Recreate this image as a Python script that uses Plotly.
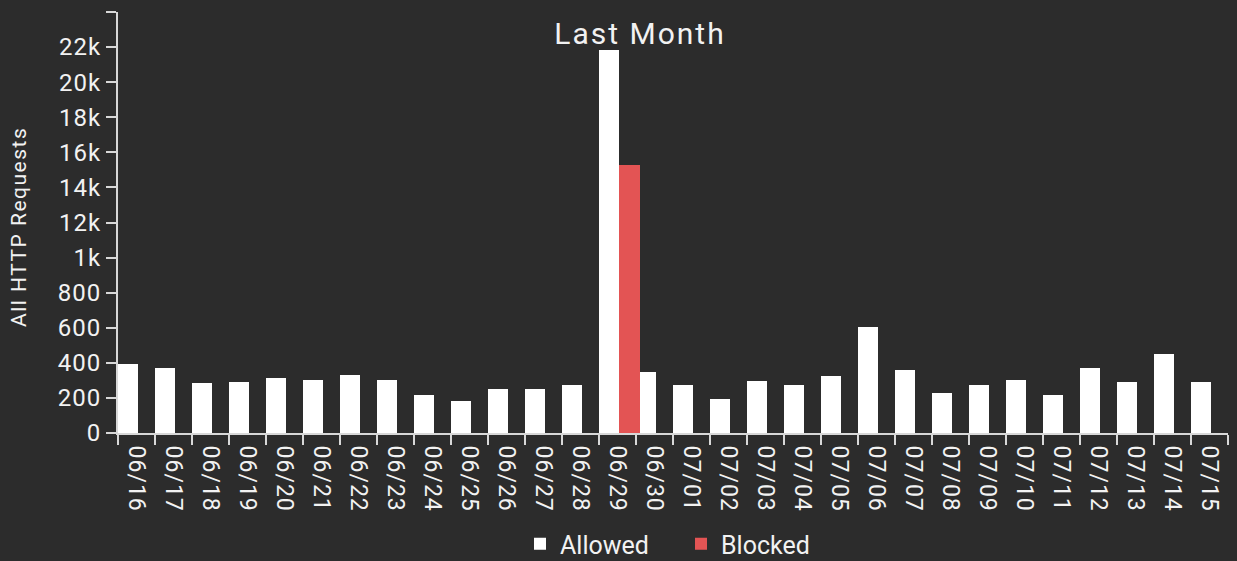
import numpy as np
import plotly.graph_objects as go

# ---- data ----
dates = ['06/16', '06/17', '06/18', '06/19', '06/20', '06/21', '06/22', '06/23',
         '06/24', '06/25', '06/26', '06/27', '06/28', '06/29', '06/30', '07/01',
         '07/02', '07/03', '07/04', '07/05', '07/06', '07/07', '07/08', '07/09',
         '07/10', '07/11', '07/12', '07/13', '07/14', '07/15']
allowed = [395, 370, 283, 292, 315, 305, 328, 305, 216, 182, 249, 249, 271, 21810,
           349, 271, 193, 294, 271, 327, 605, 360, 226, 271, 303, 216, 372, 292, 448, 292]
blocked = [0, 0, 0, 0, 0, 0, 0, 0, 0, 0, 0, 0, 0, 15260,
           0, 0, 0, 0, 0, 0, 0, 0, 0, 0, 0, 0, 0, 0, 0, 0]

# the chart's y scale is piecewise linear between its labelled ticks
y_tick_values = [0, 200, 400, 600, 800, 1000, 12000, 14000, 16000, 18000, 20000, 22000]
y_tick_labels = ['0', '200', '400', '600', '800', '1k', '12k', '14k', '16k', '18k', '20k', '22k']

BG = '#2c2c2c'
TXT = '#f2f2f2'
LINE = '#d8d8d8'
RED = '#e35454'
FONT = 'Roboto'

tick_pos = np.arange(len(y_tick_values), dtype=float)


def scale(v):
    return np.interp(np.asarray(v, dtype=float), y_tick_values, tick_pos)


def ls(t, px=1):
    return f"<span style='letter-spacing:{px}px'>{t}</span>"


fig = go.Figure()
fig.add_trace(go.Bar(x=dates, y=scale(allowed), name='Allowed', marker_color='#ffffff',
                     marker_line_width=0, width=0.55, offset=-0.5,
                     customdata=allowed, hovertemplate='%{x}: %{customdata}<extra>Allowed</extra>'))
fig.add_trace(go.Bar(x=dates, y=scale(blocked), name='Blocked', marker_color=RED,
                     marker_line_width=0, width=0.55, offset=0.05,
                     customdata=blocked, hovertemplate='%{x}: %{customdata}<extra>Blocked</extra>'))

fig.update_layout(
    width=1237, height=561,
    paper_bgcolor=BG, plot_bgcolor=BG,
    margin=dict(l=118, r=9, t=12, b=128, autoexpand=False),
    barmode='group', bargap=0, bargroupgap=0,
    font=dict(family=FONT, color=TXT, size=22),
    showlegend=True,
    legend=dict(orientation='h', xref='paper', x=(520 - 118) / 1110, xanchor='left',
                yref='container', y=(561 - 544) / 561, yanchor='middle',
                entrywidth=116, entrywidthmode='pixels',
                font=dict(size=25, color=TXT), bgcolor='rgba(0,0,0,0)', itemwidth=30),
    title=dict(text=ls('Last Month', 2), x=(640 - 118) / 1110, xref='paper', xanchor='center',
               y=(561 - 33) / 561, yref='container', yanchor='middle',
               font=dict(size=30, color=TXT)),
)
fig.update_xaxes(
    type='category', range=[-0.5, len(dates) - 0.5], automargin=False,
    tickmode='array', tickvals=dates, ticktext=[ls(d, 1) for d in dates],
    tickson='boundaries', ticks='outside', ticklen=10, tickwidth=2, tickcolor=LINE,
    tickangle=90, tickfont=dict(size=23, color=TXT), ticklabelstandoff=6,
    showline=True, linecolor=LINE, linewidth=2, showgrid=False, zeroline=False,
)
fig.update_yaxes(
    range=[0, 12], tickmode='array', automargin=False,
    tickvals=list(tick_pos) + [12],
    ticktext=[ls(t, 1) for t in y_tick_labels] + [''],
    ticks='outside', ticklen=10, tickwidth=2, tickcolor=LINE,
    tickfont=dict(size=24, color=TXT),
    showline=True, linecolor=LINE, linewidth=2, showgrid=False, zeroline=False,
)
fig.add_annotation(text=ls('All HTTP Requests', 1.5), textangle=-90, showarrow=False,
                   xref='paper', yref='paper', x=(19 - 118) / 1110, y=(433 - 227) / 421,
                   xanchor='center', yanchor='middle', font=dict(size=21, color=TXT))

fig.write_html('out.html', config={'displayModeBar': False},
               post_script="document.body.style.margin='0';document.body.style.padding='0';"
                           "document.body.style.overflow='hidden';"
                           "document.body.style.background='" + BG + "';")
